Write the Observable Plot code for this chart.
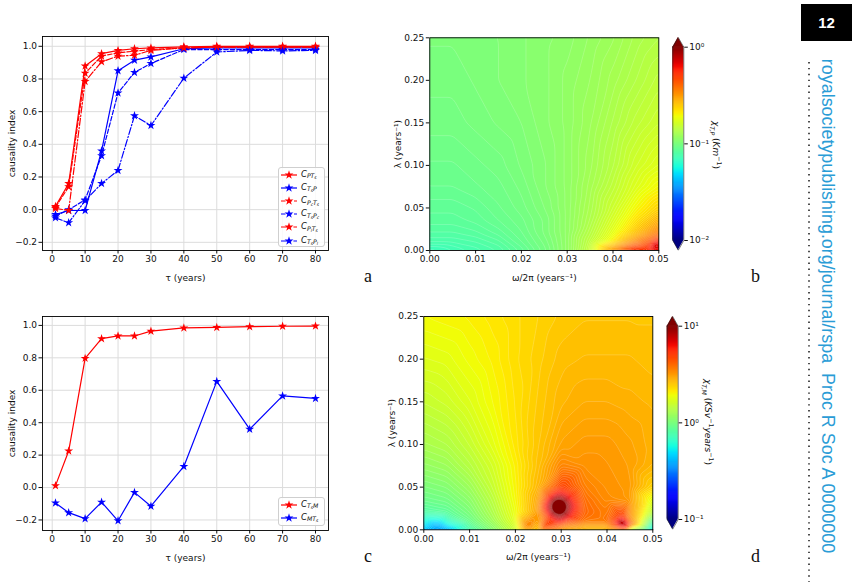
<!DOCTYPE html>
<html><head><meta charset="utf-8">
<script src="https://cdn.jsdelivr.net/npm/d3@7"></script>
<script src="https://cdn.jsdelivr.net/npm/@observablehq/plot@0.6"></script>
<style>
html,body{margin:0;padding:0;background:#fff;}
body{width:852px;height:586px;overflow:hidden;position:relative;font-family:"DejaVu Sans",sans-serif;}
.abs{position:absolute;}
.abs svg{display:block;}
.legend{position:absolute;border:1px solid #cfcfcf;border-radius:3px;background:rgba(255,255,255,0.85);box-sizing:border-box;}
.lab{position:absolute;font-family:"DejaVu Sans";font-style:italic;font-size:8.5px;line-height:12px;white-space:nowrap;color:#111;}
.lab sub{font-size:72%;vertical-align:-0.28em;line-height:0;}
.cblab{position:absolute;font-family:"DejaVu Sans";font-size:9px;white-space:nowrap;transform:translate(-50%,-50%) rotate(90deg);color:#111;}
.cblab i{font-style:italic;}
.cblab sub,.cblab sup{font-size:70%;line-height:0;}
.plet{position:absolute;font-family:"Liberation Serif","DejaVu Serif",serif;font-size:18px;color:#111;}
</style></head><body>
<script>
// ---------- data: panel a ----------
const tau = [1, 5, 10, 15, 20, 25, 30, 40, 50, 60, 70, 80];
const cPTs  = [0.02, 0.16, 0.88, 0.955, 0.975, 0.985, 0.99, 0.997, 1.0, 1.0, 1.0, 1.0];
const cTsP  = [-0.03, -0.005, -0.005, 0.36, 0.85, 0.915, 0.935, 0.985, 0.99, 0.99, 0.99, 0.99];
const cPcTs = [0.015, 0.14, 0.835, 0.94, 0.96, 0.97, 0.98, 0.99, 0.995, 0.995, 0.995, 0.995];
const cTsPc = [-0.04, 0.0, 0.06, 0.33, 0.715, 0.84, 0.895, 0.98, 0.98, 0.98, 0.98, 0.98];
const cPlTs = [0.008, -0.005, 0.785, 0.905, 0.94, 0.945, 0.975, 0.99, 0.995, 0.995, 0.995, 0.995];
const cTsPl = [-0.05, -0.08, 0.055, 0.16, 0.24, 0.575, 0.515, 0.805, 0.965, 0.975, 0.972, 0.975];
// ---------- data: panel c ----------
const cTsM = [0.012, 0.225, 0.797, 0.918, 0.935, 0.935, 0.965, 0.985, 0.988, 0.992, 0.995, 0.996];
const cMTs = [-0.095, -0.155, -0.192, -0.09, -0.205, -0.03, -0.115, 0.13, 0.655, 0.36, 0.565, 0.55];
// ---------- ticks ----------
const tauTicks = [0, 10, 20, 30, 40, 50, 60, 70, 80];
const ciTicks = [-0.2, 0, 0.2, 0.4, 0.6, 0.8, 1.0];
const omegaTicks = [0, 0.01, 0.02, 0.03, 0.04, 0.05];
const lambdaTicks = [0, 0.05, 0.10, 0.15, 0.20, 0.25];
// ---------- data: heat maps (log10 of chi), sampled on grid, rows from lambda=0 upward ----------
const fx = [0, 0.005, 0.01, 0.015, 0.02, 0.025, 0.03, 0.035, 0.04, 0.045, 0.05];
const fy = [0, 0.01, 0.02, 0.035, 0.05, 0.075, 0.10, 0.15, 0.20, 0.25];
const logChiTP = [
  [-1.16,-1.14,-1.12,-1.10,-1.06,-1.01,-0.94,-0.81,-0.58,-0.34,-0.21],
  [-1.11,-1.11,-1.10,-1.08,-1.04,-1.00,-0.94,-0.83,-0.68,-0.46,-0.26],
  [-1.09,-1.09,-1.08,-1.06,-1.03,-0.99,-0.94,-0.85,-0.73,-0.58,-0.42],
  [-1.07,-1.07,-1.06,-1.04,-1.02,-0.99,-0.94,-0.87,-0.77,-0.65,-0.54],
  [-1.06,-1.06,-1.05,-1.03,-1.01,-0.98,-0.94,-0.88,-0.80,-0.70,-0.62],
  [-1.04,-1.04,-1.03,-1.02,-1.00,-0.97,-0.94,-0.89,-0.83,-0.76,-0.70],
  [-1.03,-1.03,-1.02,-1.01,-0.99,-0.97,-0.94,-0.90,-0.85,-0.79,-0.75],
  [-1.01,-1.01,-1.00,-0.99,-0.98,-0.96,-0.94,-0.91,-0.87,-0.83,-0.80],
  [-1.00,-1.00,-0.99,-0.98,-0.97,-0.96,-0.94,-0.92,-0.89,-0.86,-0.83],
  [-0.99,-0.99,-0.98,-0.98,-0.97,-0.96,-0.95,-0.93,-0.91,-0.88,-0.86]
];
const spotsTP = [[0.0493, 0.006, -0.03], [0.045, 0.0015, -0.2], [0.040, 0.001, -0.46], [0.0475, 0.003, -0.26]];
const logChiTM = [
  [-0.35,-0.40,-0.12, 0.03, 0.20, 0.35, 0.45, 0.40, 0.40, 0.05,-0.35],
  [-0.22,-0.18,-0.03, 0.10, 0.26, 0.45, 0.80, 0.58, 0.58, 0.55,-0.10],
  [-0.10,-0.07, 0.01, 0.13, 0.28, 0.50, 1.05, 0.62, 0.56, 0.52, 0.15],
  [-0.03,-0.01, 0.05, 0.16, 0.30, 0.48, 1.00, 0.60, 0.53, 0.50, 0.25],
  [ 0.01, 0.03, 0.09, 0.19, 0.31, 0.44, 0.70, 0.56, 0.52, 0.50, 0.38],
  [ 0.07, 0.09, 0.15, 0.22, 0.32, 0.42, 0.55, 0.52, 0.51, 0.49, 0.44],
  [ 0.12, 0.14, 0.19, 0.26, 0.34, 0.41, 0.48, 0.50, 0.50, 0.48, 0.45],
  [ 0.19, 0.21, 0.25, 0.30, 0.35, 0.40, 0.44, 0.46, 0.46, 0.45, 0.44],
  [ 0.25, 0.26, 0.29, 0.32, 0.36, 0.39, 0.42, 0.43, 0.43, 0.43, 0.42],
  [ 0.30, 0.31, 0.32, 0.34, 0.36, 0.38, 0.40, 0.41, 0.41, 0.41, 0.41]
];
const spotsTM = [
  [0.0295, 0.027, 1.25],
  [0.0310, 0.027, 1.02], [0.0280, 0.027, 1.02], [0.0295, 0.0352, 1.02], [0.0295, 0.0188, 1.02],
  [0.0306, 0.0328, 1.02], [0.0284, 0.0328, 1.02], [0.0306, 0.0212, 1.02], [0.0284, 0.0212, 1.02],
  [0.0330, 0.027, 0.78], [0.0260, 0.027, 0.70], [0.0295, 0.0458, 0.76], [0.0295, 0.0082, 0.76],
  [0.0320, 0.0403, 0.76], [0.0270, 0.0403, 0.68], [0.0320, 0.0137, 0.76], [0.0270, 0.0137, 0.68],
  [0.0425, 0.008, 1.05], [0.0443, 0.0045, 1.0],
  [0.0451, 0.007, 0.75], [0.0415, 0.007, 0.72], [0.0433, 0.0164, 0.72], [0.0433, 0.0, 0.5],
  [0.003, 0.002, -0.45], [0.0225, 0.002, 0.6], [0.026, 0.002, 0.7]
];

// ---------- helpers ----------
function pw(t, pts) {
  for (let i = 1; i < pts.length; i++) {
    if (t <= pts[i][0]) { const [t0, v0] = pts[i-1], [t1, v1] = pts[i]; return v0 + (v1 - v0) * (t - t0) / (t1 - t0); }
  }
  return pts[pts.length-1][1];
}
function jet(t) {
  t = Math.max(0, Math.min(1, t));
  const r = pw(t, [[0,0],[0.35,0],[0.66,1],[0.89,1],[1,0.5]]);
  const g = pw(t, [[0,0],[0.125,0],[0.375,1],[0.64,1],[0.91,0],[1,0]]);
  const b = pw(t, [[0,0.5],[0.11,1],[0.34,1],[0.65,0],[1,0]]);
  return d3.rgb(r*255, g*255, b*255).formatHex();
}
function jetScale(lo, hi) {
  const ts = d3.range(0, 1.0001, 0.02);
  return {type: "linear", domain: ts.map(t => lo + t*(hi-lo)), range: ts.map(jet), clamp: true};
}
const baseStyle = {fontFamily: "DejaVu Sans", fontSize: "9px", color: "#111", background: "transparent", overflow: "visible"};
function place(el, left, top) {
  const d = document.createElement("div"); d.className = "abs"; d.style.left = left + "px"; d.style.top = top + "px";
  d.appendChild(el); document.body.appendChild(d); return d;
}
const starR = 2.8;
function starPath(r) { return d3.symbol(d3.symbolStar, r*r*Math.PI)(); }

// ---------- line panels ----------
function linePanel(series, yDomain, mTop, mBottom) {
  const marks = [
    Plot.gridX(tauTicks, {stroke: "#dcdcdc", strokeOpacity: 1, strokeWidth: 1}),
    Plot.gridY(ciTicks, {stroke: "#dcdcdc", strokeOpacity: 1, strokeWidth: 1})
  ];
  for (const s of series) {
    const d = tau.map((t, i) => ({tau: t, v: s.values[i]}));
    marks.push(Plot.line(d, {x: "tau", y: "v", stroke: s.color, strokeWidth: 1.2, strokeDasharray: s.dash}));
    marks.push(Plot.dot(d, {x: "tau", y: "v", symbol: "star", fill: s.color, r: starR}));
  }
  marks.push(
    Plot.axisX(tauTicks, {tickSize: 3.5, tickPadding: 2, fontSize: 9, label: "τ (years)", labelAnchor: "center", labelOffset: 30, labelArrow: "none"}),
    Plot.axisY(ciTicks, {tickSize: 3.5, tickPadding: 2, fontSize: 9, tickFormat: d3.format(".1f"), label: "causality index", labelAnchor: "center", labelOffset: 34, labelArrow: "none"}),
    Plot.frame({stroke: "black", strokeWidth: 0.9})
  );
  return Plot.plot({width: 340, height: 290, marginLeft: 42, marginRight: 12, marginTop: mTop, marginBottom: mBottom,
    x: {domain: [-2.95, 83.95]}, y: {domain: yDomain}, style: baseStyle, marks});
}
function legend(items, left, top, w, h) {
  const box = document.createElement("div"); box.className = "legend";
  Object.assign(box.style, {left: left + "px", top: top + "px", width: w + "px", height: h + "px"});
  items.forEach((it, i) => {
    const y = 6.5 + i * 13.2;
    const svg = d3.create("svg").attr("width", 20).attr("height", 12).style("position", "absolute").style("left", "1px").style("top", (y - 6) + "px");
    svg.append("line").attr("x1", 1).attr("x2", 17).attr("y1", 6).attr("y2", 6).attr("stroke", it.color).attr("stroke-width", 1.2).attr("stroke-dasharray", it.dash || null);
    svg.append("path").attr("d", starPath(starR)).attr("transform", "translate(9,6)").attr("fill", it.color);
    box.appendChild(svg.node());
    const lab = document.createElement("div"); lab.className = "lab"; lab.innerHTML = it.label;
    lab.style.left = "22px"; lab.style.top = (y - 7) + "px";
    box.appendChild(lab);
  });
  document.body.appendChild(box);
}
const dashed = "4.5,2", dashdot = "7,2,1.4,2";
const seriesA = [
  {values: cPTs,  color: "#ff0000", dash: null,    label: "C<sub>PT<sub>s</sub></sub>"},
  {values: cTsP,  color: "#0000ff", dash: null,    label: "C<sub>T<sub>s</sub>P</sub>"},
  {values: cPcTs, color: "#ff0000", dash: dashed,  label: "C<sub>P<sub>c</sub>T<sub>s</sub></sub>"},
  {values: cTsPc, color: "#0000ff", dash: dashed,  label: "C<sub>T<sub>s</sub>P<sub>c</sub></sub>"},
  {values: cPlTs, color: "#ff0000", dash: dashdot, label: "C<sub>P<sub>l</sub>T<sub>s</sub></sub>"},
  {values: cTsPl, color: "#0000ff", dash: dashdot, label: "C<sub>T<sub>s</sub>P<sub>l</sub></sub>"}
];
const seriesC = [
  {values: cTsM, color: "#ff0000", dash: null, label: "C<sub>T<sub>s</sub>M</sub>"},
  {values: cMTs, color: "#0000ff", dash: null, label: "C<sub>MT<sub>s</sub></sub>"}
];
place(linePanel(seriesA, [-0.25, 1.06], 36, 40), 0, 0);
place(linePanel(seriesC, [-0.265, 1.055], 36, 40), 0, 280);
legend(seriesA, 278, 167, 47, 80);
legend(seriesC, 278, 497, 47, 29);

// ---------- heat maps ----------
function fieldPoints(rows, spots) {
  const pts = [];
  fy.forEach((y, j) => fx.forEach((x, i) => pts.push({x, y, v: rows[j][i]})));
  for (const [x, y, v] of spots) pts.push({x, y, v});
  return pts;
}
function heatPanel(rows, spots, lo, hi, thr, m) {
  return Plot.plot({width: 290, height: 290, marginLeft: m.l, marginRight: m.r, marginTop: m.t, marginBottom: m.b,
    x: {domain: [0, 0.05]}, y: {domain: [0, 0.25]}, color: jetScale(lo, hi), style: baseStyle,
    marks: [
      Plot.contour(fieldPoints(rows, spots), {x: "x", y: "y", value: "v", fill: "value", stroke: "white", strokeOpacity: 0.4, strokeWidth: 0.5,
        thresholds: thr, interpolate: "barycentric", blur: 2, pixelSize: 1, x1: 0, x2: 0.05, y1: 0, y2: 0.25, clip: true}),
      Plot.axisX(omegaTicks, {tickSize: 3.5, tickPadding: 2, fontSize: 9, tickFormat: d3.format(".2f"), label: "ω/2π (years⁻¹)", labelAnchor: "center", labelOffset: 30, labelArrow: "none"}),
      Plot.axisY(lambdaTicks, {tickSize: 3.5, tickPadding: 2, fontSize: 9, tickFormat: d3.format(".2f"), label: "λ (years⁻¹)", labelAnchor: "center", labelOffset: 35, labelArrow: "none"}),
      Plot.frame({stroke: "black", strokeWidth: 0.9})
    ]});
}
const sup = {"-2": "⁻²", "-1": "⁻¹", "0": "⁰", "1": "¹"};
function colorbar(lo, hi, mLeft, mTop, mBottom) {
  const step = (hi - lo) / 200;
  const cells = d3.range(lo, hi - step/2, step);
  const ext = (hi - lo) * 0.05;
  const mid = (lo + hi) / 2;
  const ticks = [lo, mid, hi];
  const outline = [{x:0,y:hi},{x:0.5,y:hi+ext},{x:1,y:hi},{x:1,y:lo},{x:0.5,y:lo-ext},{x:0,y:lo},{x:0,y:hi}];
  return Plot.plot({width: 80, height: 290, marginLeft: mLeft, marginRight: 80 - mLeft - 11, marginTop: mTop, marginBottom: mBottom,
    x: {domain: [0, 1], axis: null}, y: {domain: [lo, hi]}, color: jetScale(lo, hi), style: baseStyle,
    marks: [
      Plot.rect(cells, {x1: 0, x2: 1, y1: d => d, y2: d => d + step * 1.6, fill: d => d + step/2}),
      Plot.areaX([{y: hi, a: 0, b: 1}, {y: hi + ext, a: 0.5, b: 0.5}], {y: "y", x1: "a", x2: "b", fill: jet(1)}),
      Plot.areaX([{y: lo, a: 0, b: 1}, {y: lo - ext, a: 0.5, b: 0.5}], {y: "y", x1: "a", x2: "b", fill: jet(0)}),
      Plot.line(outline, {x: "x", y: "y", stroke: "#222", strokeWidth: 0.6}),
      Plot.axisY(ticks, {anchor: "right", tickSize: 3.5, tickPadding: 2, fontSize: 9, tickFormat: d => "10" + sup[String(Math.round(d))], label: null})
    ]});
}
place(heatPanel(logChiTP, spotsTP, -2, 0, d3.range(-1.22, 0.0, 0.012), {l: 49.3, r: 11.7, t: 37.3, b: 40}), 380, 0);
place(heatPanel(logChiTM, spotsTM, -1, 1, d3.range(-0.5, 1.0, 0.016), {l: 43.3, r: 17.7, t: 36, b: 40.7}), 380, 280);
place(colorbar(-2, 0, 12.3, 46.7, 50), 660, 0);
place(colorbar(-1, 1, 11.7, 45.7, 51), 655, 280);

// ---------- text decorations ----------
function addHTML(cls, html, css) { const d = document.createElement("div"); d.className = cls; d.innerHTML = html; Object.assign(d.style, css); document.body.appendChild(d); return d; }
addHTML("cblab", "<i>χ<sub>T,P</sub></i> (<i>Km</i><sup>−1</sup>)", {left: "716px", top: "145px"});
addHTML("cblab", "<i>χ<sub>T,M</sub></i> (<i>KSv</i><sup>−1</sup><i>years</i><sup>−1</sup>)", {left: "708px", top: "422px"});
addHTML("plet", "a", {left: "364px", top: "266px"});
addHTML("plet", "b", {left: "751px", top: "266px"});
addHTML("plet", "c", {left: "364px", top: "546px"});
addHTML("plet", "d", {left: "751px", top: "546px"});
addHTML("abs", "12", {left: "801px", top: "4px", width: "51px", height: "37px", background: "#000", color: "#fff", fontFamily: "Liberation Sans, Arial, sans-serif", fontWeight: "bold", fontSize: "15px", lineHeight: "37px", textAlign: "center"});
addHTML("abs", "royalsocietypublishing.org/journal/rspa&nbsp;&nbsp;Proc R Soc A 0000000",
  {left: "827px", top: "306px", transform: "translate(-50%,-50%) rotate(90deg)", fontFamily: "Liberation Sans, Arial, sans-serif", fontSize: "17.9px", color: "#2a9cd6", whiteSpace: "nowrap"});
const dots = d3.create("svg").attr("width", 6).attr("height", 530).style("position", "absolute").style("left", "806px").style("top", "58px");
dots.append("line").attr("x1", 3).attr("x2", 3).attr("y1", 4).attr("y2", 524).attr("stroke", "#222").attr("stroke-width", 1.6).attr("stroke-dasharray", "1.4,4.5");
document.body.appendChild(dots.node());
</script>
</body></html>
